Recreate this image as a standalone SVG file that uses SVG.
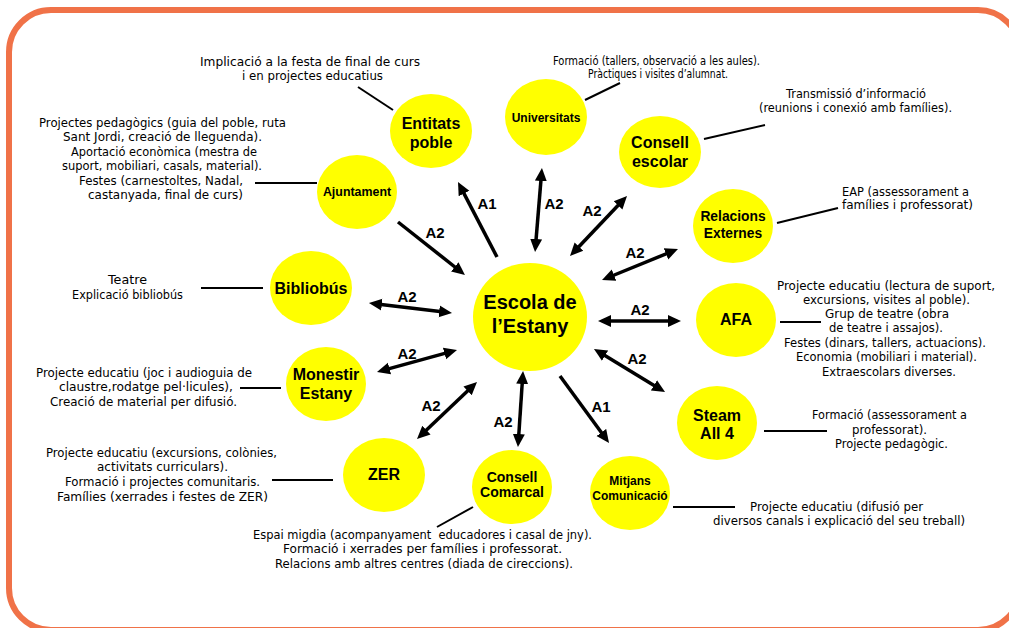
<svg xmlns="http://www.w3.org/2000/svg" width="1009" height="628" viewBox="0 0 1009 628">
<style>
.node{fill:#FFFF00;}
.nt{font-family:"Liberation Sans",Arial,sans-serif;font-weight:bold;fill:#000;text-anchor:middle;}
.desc{font-family:"DejaVu Sans",sans-serif;font-size:11.8px;fill:#000;text-anchor:middle;white-space:pre;}
.arr{stroke:#000;stroke-width:3.5;fill:none;}
.lnk{stroke:#000;stroke-width:2;fill:none;}
.lbl{font-family:"Liberation Sans",Arial,sans-serif;font-weight:bold;font-size:15px;fill:#000;text-anchor:middle;}
</style>
<defs>
<marker id="ah" markerUnits="userSpaceOnUse" markerWidth="14" markerHeight="14" viewBox="0 -7 14 14" refX="5" refY="0" orient="auto-start-reverse">
<path d="M0,-6 L13,0 L0,6 z" fill="#000"/>
</marker>
</defs>
<rect x="0" y="0" width="1009" height="628" fill="#fff"/>
<rect x="9" y="10" width="1011" height="620" rx="42" ry="42" fill="none" stroke="#F07248" stroke-width="6"/>

<g id="connectors">
<line class="arr" x1="497" y1="257" x2="461.7" y2="189.1" marker-end="url(#ah)"/>
<line class="arr" x1="398" y1="222" x2="458.7" y2="270" marker-end="url(#ah)"/>
<line class="arr" x1="541.3" y1="176" x2="535.7" y2="244" marker-start="url(#ah)" marker-end="url(#ah)"/>
<line class="arr" x1="621.5" y1="201.8" x2="575.5" y2="250.2" marker-start="url(#ah)" marker-end="url(#ah)"/>
<line class="arr" x1="670.6" y1="252" x2="609.4" y2="277" marker-start="url(#ah)" marker-end="url(#ah)"/>
<line class="arr" x1="606" y1="321" x2="673" y2="321" marker-start="url(#ah)" marker-end="url(#ah)"/>
<line class="arr" x1="600.8" y1="353.1" x2="658.2" y2="387.9" marker-start="url(#ah)" marker-end="url(#ah)"/>
<line class="arr" x1="560" y1="376" x2="604.3" y2="436.5" marker-end="url(#ah)"/>
<line class="arr" x1="522.5" y1="379" x2="518.5" y2="439" marker-start="url(#ah)" marker-end="url(#ah)"/>
<line class="arr" x1="471.2" y1="387.5" x2="422.8" y2="433.5" marker-start="url(#ah)" marker-end="url(#ah)"/>
<line class="arr" x1="449.3" y1="352.1" x2="384.7" y2="369.9" marker-start="url(#ah)" marker-end="url(#ah)"/>
<line class="arr" x1="376.9" y1="304" x2="444.1" y2="312" marker-start="url(#ah)" marker-end="url(#ah)"/>
<text class="lbl" x="487" y="208.5">A1</text>
<text class="lbl" x="435" y="237.5">A2</text>
<text class="lbl" x="554" y="208.5">A2</text>
<text class="lbl" x="592" y="215.5">A2</text>
<text class="lbl" x="635" y="257.5">A2</text>
<text class="lbl" x="640" y="314.5">A2</text>
<text class="lbl" x="637" y="363.5">A2</text>
<text class="lbl" x="601" y="411.5">A1</text>
<text class="lbl" x="503" y="426.5">A2</text>
<text class="lbl" x="431" y="410.5">A2</text>
<text class="lbl" x="407" y="358.5">A2</text>
<text class="lbl" x="407" y="301.5">A2</text>
<line class="lnk" x1="358" y1="87" x2="393" y2="110"/>
<line class="lnk" x1="255" y1="183" x2="317" y2="183"/>
<line class="lnk" x1="585" y1="100" x2="620" y2="83"/>
<line class="lnk" x1="704" y1="139" x2="765" y2="125"/>
<line class="lnk" x1="777" y1="223" x2="838" y2="208"/>
<line class="lnk" x1="780" y1="322" x2="821" y2="322"/>
<line class="lnk" x1="764" y1="431" x2="827" y2="431"/>
<line class="lnk" x1="673" y1="507" x2="735" y2="507"/>
<line class="lnk" x1="473" y1="507" x2="437" y2="527"/>
<line class="lnk" x1="272" y1="480" x2="333" y2="480"/>
<line class="lnk" x1="240" y1="388" x2="281" y2="388"/>
<line class="lnk" x1="201" y1="288" x2="263" y2="288"/>
</g>

<g id="escola">
<ellipse class="node" cx="530" cy="317" rx="57" ry="54"/>
<text class="nt" x="530" y="309" font-size="20">Escola de</text>
<text class="nt" x="530" y="333" font-size="20">l’Estany</text>
</g>

<g id="entitats">
<ellipse class="node" cx="431" cy="131" rx="41" ry="37"/>
<text class="nt" x="431" y="129" font-size="16">Entitats</text>
<text class="nt" x="431" y="148" font-size="16">poble</text>
<text class="desc" x="310" y="66" textLength="220" lengthAdjust="spacingAndGlyphs">Implicació a la festa de final de curs</text>
<text class="desc" x="312.5" y="80" textLength="141" lengthAdjust="spacingAndGlyphs">i en projectes educatius</text>
</g>

<g id="ajuntament">
<ellipse class="node" cx="357" cy="192" rx="40" ry="37"/>
<text class="nt" x="357" y="196" font-size="12.4">Ajuntament</text>
<text class="desc" x="162.5" y="127" textLength="247" lengthAdjust="spacingAndGlyphs">Projectes pedagògics (guia del poble, ruta</text>
<text class="desc" x="162.5" y="141" textLength="199" lengthAdjust="spacingAndGlyphs">Sant Jordi, creació de lleguenda).</text>
<text class="desc" x="164" y="156" textLength="186" lengthAdjust="spacingAndGlyphs">Aportació econòmica (mestra de</text>
<text class="desc" x="162" y="170" textLength="200" lengthAdjust="spacingAndGlyphs">suport, mobiliari, casals, material).</text>
<text class="desc" x="161" y="185" textLength="164" lengthAdjust="spacingAndGlyphs">Festes (carnestoltes, Nadal,</text>
<text class="desc" x="165.5" y="199" textLength="155" lengthAdjust="spacingAndGlyphs">castanyada, final de curs)</text>
</g>

<g id="universitats">
<ellipse class="node" cx="546" cy="117" rx="41" ry="38"/>
<text class="nt" x="546" y="122" font-size="12">Universitats</text>
<text class="desc" x="656.5" y="65" textLength="207" lengthAdjust="spacingAndGlyphs">Formació (tallers, observació a les aules).</text>
<text class="desc" x="658" y="78" textLength="140" lengthAdjust="spacingAndGlyphs">Pràctiques i visites d’alumnat.</text>
</g>

<g id="consell-escolar">
<ellipse class="node" cx="660" cy="152" rx="41" ry="36"/>
<text class="nt" x="660" y="148" font-size="16">Consell</text>
<text class="nt" x="660" y="167" font-size="16">escolar</text>
<text class="desc" x="856" y="98" textLength="140" lengthAdjust="spacingAndGlyphs">Transmissió d’informació</text>
<text class="desc" x="855.5" y="112" textLength="193" lengthAdjust="spacingAndGlyphs">(reunions i conexió amb famílies).</text>
</g>

<g id="relacions">
<ellipse class="node" cx="733" cy="226" rx="40" ry="37"/>
<text class="nt" x="733" y="221" font-size="13.8">Relacions</text>
<text class="nt" x="733" y="238" font-size="13.8">Externes</text>
<text class="desc" x="905.5" y="196" textLength="127" lengthAdjust="spacingAndGlyphs">EAP (assessorament a</text>
<text class="desc" x="907.5" y="209" textLength="131" lengthAdjust="spacingAndGlyphs">famílies i professorat)</text>
</g>

<g id="afa">
<ellipse class="node" cx="736" cy="320" rx="40" ry="37"/>
<text class="nt" x="736" y="325" font-size="16">AFA</text>
<text class="desc" x="886" y="290" textLength="218" lengthAdjust="spacingAndGlyphs">Projecte educatiu (lectura de suport,</text>
<text class="desc" x="886.5" y="304" textLength="167" lengthAdjust="spacingAndGlyphs">excursions, visites al poble).</text>
<text class="desc" x="887" y="318" textLength="124" lengthAdjust="spacingAndGlyphs">Grup de teatre (obra</text>
<text class="desc" x="886" y="332" textLength="114" lengthAdjust="spacingAndGlyphs">de teatre i assajos).</text>
<text class="desc" x="885" y="347" textLength="202" lengthAdjust="spacingAndGlyphs">Festes (dinars, tallers, actuacions).</text>
<text class="desc" x="886.5" y="361" textLength="181" lengthAdjust="spacingAndGlyphs">Economia (mobiliari i material).</text>
<text class="desc" x="889" y="376" textLength="134" lengthAdjust="spacingAndGlyphs">Extraescolars diverses.</text>
</g>

<g id="steam">
<ellipse class="node" cx="717" cy="423" rx="40" ry="37"/>
<text class="nt" x="717" y="421" font-size="16">Steam</text>
<text class="nt" x="717" y="439" font-size="16">All 4</text>
<text class="desc" x="889.5" y="419" textLength="155" lengthAdjust="spacingAndGlyphs">Formació (assessorament a</text>
<text class="desc" x="889.5" y="434" textLength="75" lengthAdjust="spacingAndGlyphs">professorat).</text>
<text class="desc" x="891.5" y="448" textLength="113" lengthAdjust="spacingAndGlyphs">Projecte pedagògic.</text>
</g>

<g id="mitjans">
<ellipse class="node" cx="630" cy="493" rx="40" ry="37"/>
<text class="nt" x="630" y="485" font-size="12">Mitjans</text>
<text class="nt" x="630" y="500" font-size="12">Comunicació</text>
<text class="desc" x="836.5" y="511" textLength="173" lengthAdjust="spacingAndGlyphs">Projecte educatiu (difusió per</text>
<text class="desc" x="839" y="525" textLength="252" lengthAdjust="spacingAndGlyphs">diversos canals i explicació del seu treball)</text>
</g>

<g id="consell-comarcal">
<ellipse class="node" cx="512" cy="487" rx="40" ry="37"/>
<text class="nt" x="512" y="482" font-size="14">Consell</text>
<text class="nt" x="512" y="497" font-size="14">Comarcal</text>
<text class="desc" x="422.5" y="539" textLength="339" lengthAdjust="spacingAndGlyphs">Espai migdia (acompanyament  educadores i casal de jny).</text>
<text class="desc" x="422.5" y="553" textLength="279" lengthAdjust="spacingAndGlyphs">Formació i xerrades per famílies i professorat.</text>
<text class="desc" x="424" y="568" textLength="298" lengthAdjust="spacingAndGlyphs">Relacions amb altres centres (diada de cireccions).</text>
</g>

<g id="zer">
<ellipse class="node" cx="384" cy="475" rx="41" ry="37"/>
<text class="nt" x="384" y="480" font-size="16">ZER</text>
<text class="desc" x="161.5" y="457" textLength="231" lengthAdjust="spacingAndGlyphs">Projecte educatiu (excursions, colònies,</text>
<text class="desc" x="162.5" y="471" textLength="131" lengthAdjust="spacingAndGlyphs">activitats curriculars).</text>
<text class="desc" x="162.5" y="486" textLength="195" lengthAdjust="spacingAndGlyphs">Formació i projectes comunitaris.</text>
<text class="desc" x="162.5" y="501" textLength="211" lengthAdjust="spacingAndGlyphs">Famílies (xerrades i festes de ZER)</text>
</g>

<g id="monestir">
<ellipse class="node" cx="326" cy="384" rx="40" ry="37"/>
<text class="nt" x="326" y="380" font-size="16">Monestir</text>
<text class="nt" x="326" y="399" font-size="16">Estany</text>
<text class="desc" x="144" y="377" textLength="216" lengthAdjust="spacingAndGlyphs">Projecte educatiu (joc i audioguia de</text>
<text class="desc" x="146" y="391" textLength="174" lengthAdjust="spacingAndGlyphs">claustre,rodatge pel·licules),</text>
<text class="desc" x="143.5" y="406" textLength="187" lengthAdjust="spacingAndGlyphs">Creació de material per difusió.</text>
</g>

<g id="bibliobus">
<ellipse class="node" cx="311" cy="288" rx="41" ry="37"/>
<text class="nt" x="311" y="294" font-size="16">Bibliobús</text>
<text class="desc" x="127.5" y="284" textLength="39" lengthAdjust="spacingAndGlyphs">Teatre</text>
<text class="desc" x="127.5" y="299" textLength="111" lengthAdjust="spacingAndGlyphs">Explicació bibliobús</text>
</g>
</svg>
